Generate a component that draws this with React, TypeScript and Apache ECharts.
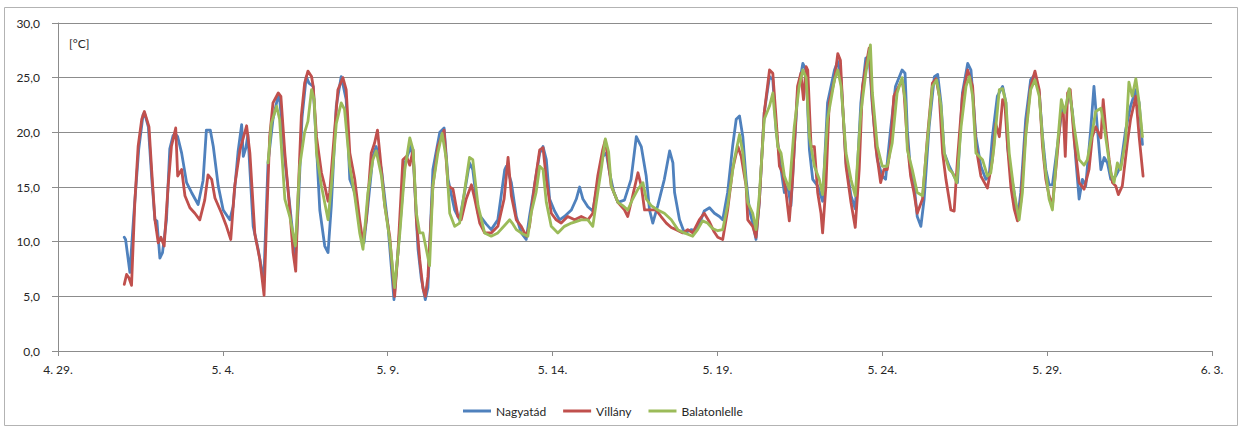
import React, { useEffect, useRef } from "react";
import * as echarts from "echarts";

// x values are days counted from 29 April 00:00
const xTickLabels = ["4. 29.", "5. 4.", "5. 9.", "5. 14.", "5. 19.", "5. 24.", "5. 29.", "6. 3."];
const seriesNames = ["Nagyatád", "Villány", "Balatonlelle"];
const seriesColors = ["#4F81BD", "#C0504D", "#9BBB59"];
const unitLabel = "[°C]";

const nagyatad: [number, number][] = [
  [2.01, 10.4], [2.05, 10.2], [2.18, 7.2], [2.3, 12.5], [2.45, 18.5], [2.58, 21.6], [2.62, 21.8], [2.74, 20.5],
  [2.85, 15.5], [2.94, 12.0], [3.0, 11.9], [3.05, 10.0], [3.09, 8.5], [3.17, 9.0], [3.29, 12.0], [3.39, 18.5],
  [3.49, 19.7], [3.55, 19.9], [3.63, 19.6], [3.75, 18.1], [3.9, 15.4], [4.05, 14.5], [4.25, 13.4], [4.4, 15.6],
  [4.5, 20.2], [4.62, 20.2], [4.71, 18.7], [4.86, 15.1], [5.01, 12.9], [5.21, 12.0], [5.31, 13.2], [5.46, 18.2],
  [5.57, 20.7], [5.62, 17.8], [5.7, 18.6], [5.76, 19.8], [5.85, 15.0], [5.92, 11.4], [6.07, 9.3], [6.24, 6.4],
  [6.37, 17.2], [6.52, 21.2], [6.68, 23.4], [6.73, 22.8], [6.88, 17.5], [7.03, 13.3], [7.2, 8.5], [7.3, 14.0],
  [7.4, 21.3], [7.53, 25.1], [7.61, 24.5], [7.74, 24.2], [7.84, 18.7], [7.94, 12.9], [8.09, 9.6], [8.19, 9.0],
  [8.29, 13.3], [8.44, 22.4], [8.59, 25.1], [8.74, 23.0], [8.85, 15.7], [9.0, 14.5], [9.2, 10.5], [9.28, 9.9],
  [9.4, 13.3], [9.55, 17.8], [9.65, 18.7], [9.81, 16.6], [10.01, 11.4], [10.19, 4.7], [10.31, 9.0], [10.52, 17.2],
  [10.7, 18.7], [10.78, 17.5], [10.87, 12.0], [10.92, 9.3], [11.02, 6.6], [11.14, 4.7], [11.22, 5.8], [11.37, 16.6],
  [11.58, 20.0], [11.71, 20.4], [11.83, 15.7], [12.03, 12.9], [12.18, 12.0], [12.33, 14.5], [12.48, 17.2], [12.58, 16.6],
  [12.74, 12.6], [12.99, 11.6], [13.14, 11.1], [13.34, 12.0], [13.55, 16.6], [13.6, 16.9], [13.75, 15.4], [13.9, 12.3],
  [14.05, 10.8], [14.2, 10.2], [14.3, 12.3], [14.45, 15.1], [14.61, 18.1], [14.71, 18.7], [14.81, 17.5], [14.91, 13.9],
  [15.06, 12.8], [15.21, 12.0], [15.36, 12.3], [15.57, 12.9], [15.72, 13.9], [15.82, 15.0], [15.92, 13.9], [16.07, 13.2],
  [16.22, 12.8], [16.37, 15.4], [16.52, 17.8], [16.63, 18.1], [16.73, 16.3], [16.85, 14.6], [16.98, 13.6], [17.18, 13.8],
  [17.38, 15.7], [17.54, 19.6], [17.69, 18.7], [17.84, 16.0], [17.94, 12.9], [18.04, 11.7], [18.19, 13.3], [18.39, 15.7],
  [18.55, 18.3], [18.65, 17.2], [18.7, 14.5], [18.85, 12.0], [19.0, 10.8], [19.2, 11.1], [19.35, 11.0], [19.5, 12.0],
  [19.6, 12.8], [19.76, 13.1], [19.91, 12.6], [20.06, 12.3], [20.16, 12.0], [20.31, 14.5], [20.46, 18.7], [20.57, 21.2],
  [20.67, 21.5], [20.77, 19.6], [20.87, 15.7], [20.97, 12.9], [21.07, 11.7], [21.17, 10.2], [21.27, 13.6], [21.42, 21.8],
  [21.58, 25.1], [21.68, 24.8], [21.78, 20.2], [21.93, 16.6], [22.03, 14.5], [22.13, 15.1], [22.23, 13.3], [22.33, 18.5],
  [22.43, 23.5], [22.59, 26.3], [22.69, 25.7], [22.74, 22.0], [22.79, 18.4], [22.89, 15.7], [23.04, 15.1], [23.19, 13.7],
  [23.34, 22.7], [23.55, 25.7], [23.65, 26.5], [23.75, 24.8], [23.9, 17.2], [24.05, 14.2], [24.18, 13.0], [24.35, 22.7],
  [24.5, 26.8], [24.6, 26.9], [24.7, 22.4], [24.85, 17.5], [25.0, 16.0], [25.1, 15.7], [25.25, 20.2], [25.4, 24.2],
  [25.6, 25.7], [25.69, 25.4], [25.76, 20.2], [25.86, 16.3], [25.96, 15.4], [26.06, 12.3], [26.17, 11.4], [26.27, 13.9],
  [26.42, 20.5], [26.58, 25.1], [26.68, 25.3], [26.78, 22.7], [26.88, 18.1], [27.03, 16.9], [27.18, 16.0], [27.28, 15.4],
  [27.43, 23.6], [27.59, 26.3], [27.69, 25.7], [27.84, 19.6], [27.99, 16.9], [28.14, 15.7], [28.24, 16.0], [28.34, 19.6],
  [28.49, 23.3], [28.65, 24.2], [28.75, 22.7], [28.8, 18.7], [28.9, 16.3], [29.0, 14.5], [29.1, 12.0], [29.2, 14.5],
  [29.35, 21.2], [29.5, 24.8], [29.63, 25.3], [29.76, 23.6], [29.86, 19.6], [29.96, 16.6], [30.06, 15.2], [30.16, 15.2],
  [30.31, 18.7], [30.46, 22.4], [30.57, 22.1], [30.67, 23.9], [30.77, 21.8], [30.87, 17.5], [30.97, 13.9], [31.07, 15.7],
  [31.17, 15.1], [31.32, 20.2], [31.42, 24.2], [31.52, 20.5], [31.63, 16.6], [31.73, 17.7], [31.83, 17.2], [31.93, 15.7],
  [32.08, 16.0], [32.23, 16.9], [32.38, 20.2], [32.53, 22.4], [32.69, 23.9], [32.79, 22.7], [32.89, 18.9],
];

const villany: [number, number][] = [
  [2.01, 6.1], [2.08, 7.0], [2.15, 6.7], [2.23, 6.0], [2.33, 13.6], [2.43, 18.7], [2.54, 21.2], [2.62, 21.9],
  [2.69, 21.2], [2.76, 20.5], [2.84, 16.6], [2.94, 12.0], [3.04, 9.9], [3.12, 10.4], [3.22, 9.6], [3.34, 15.1],
  [3.44, 18.7], [3.57, 20.4], [3.63, 16.0], [3.75, 16.6], [3.85, 14.2], [4.0, 13.1], [4.15, 12.6], [4.3, 12.0],
  [4.45, 13.8], [4.55, 16.1], [4.66, 15.7], [4.76, 14.0], [4.96, 12.6], [5.11, 11.4], [5.24, 10.2], [5.36, 15.1],
  [5.52, 18.4], [5.72, 20.6], [5.82, 18.1], [5.97, 10.7], [6.12, 8.4], [6.25, 5.1], [6.32, 11.4], [6.42, 19.6],
  [6.52, 22.7], [6.68, 23.6], [6.76, 23.3], [6.88, 18.1], [7.03, 12.9], [7.13, 9.0], [7.21, 7.3], [7.28, 14.0],
  [7.38, 21.5], [7.48, 24.5], [7.58, 25.6], [7.69, 25.1], [7.74, 24.2], [7.84, 19.6], [7.99, 16.3], [8.09, 15.1],
  [8.19, 13.7], [8.24, 14.5], [8.39, 20.2], [8.49, 23.9], [8.64, 25.0], [8.74, 23.9], [8.85, 18.1], [9.0, 15.7],
  [9.15, 12.0], [9.25, 9.9], [9.35, 12.0], [9.5, 18.1], [9.6, 19.0], [9.69, 20.2], [9.76, 18.1], [9.91, 13.3],
  [10.06, 10.5], [10.21, 5.0], [10.31, 9.0], [10.46, 17.5], [10.57, 17.8], [10.67, 17.0], [10.77, 18.4], [10.87, 12.0],
  [10.97, 8.4], [11.07, 5.7], [11.14, 5.0], [11.22, 6.8], [11.37, 15.1], [11.52, 18.7], [11.71, 20.2], [11.83, 15.1],
  [11.98, 14.8], [12.13, 12.3], [12.23, 12.0], [12.38, 13.9], [12.54, 15.2], [12.64, 13.9], [12.79, 11.7], [12.94, 10.8],
  [13.14, 10.8], [13.34, 11.4], [13.53, 13.9], [13.65, 17.7], [13.75, 14.2], [13.9, 12.0], [14.05, 11.4], [14.2, 10.5],
  [14.3, 11.4], [14.45, 15.1], [14.61, 18.4], [14.71, 18.6], [14.81, 15.7], [14.96, 12.6], [15.11, 12.0], [15.26, 11.7],
  [15.46, 12.3], [15.67, 12.0], [15.87, 12.3], [16.07, 12.0], [16.22, 12.6], [16.37, 16.0], [16.52, 18.4], [16.6, 19.3],
  [16.68, 17.5], [16.78, 15.1], [16.98, 13.6], [17.18, 12.9], [17.28, 12.3], [17.43, 14.2], [17.59, 16.3], [17.69, 15.1],
  [17.79, 12.9], [17.94, 12.9], [18.14, 12.9], [18.29, 12.3], [18.45, 11.7], [18.6, 11.3], [18.75, 11.1], [18.95, 10.8],
  [19.1, 11.1], [19.25, 10.8], [19.45, 12.0], [19.6, 12.6], [19.76, 11.8], [19.9, 10.9], [20.01, 10.4], [20.16, 10.2],
  [20.31, 12.9], [20.46, 16.6], [20.62, 18.7], [20.72, 17.8], [20.87, 15.1], [20.92, 12.0], [21.07, 11.4], [21.17, 10.4],
  [21.27, 13.6], [21.42, 21.8], [21.58, 25.7], [21.68, 25.4], [21.78, 21.2], [21.88, 16.9], [21.98, 16.3], [22.08, 14.5],
  [22.18, 11.9], [22.28, 15.7], [22.43, 24.2], [22.53, 25.4], [22.61, 23.0], [22.69, 26.0], [22.74, 25.7], [22.84, 18.7],
  [22.94, 18.7], [23.04, 14.5], [23.14, 12.6], [23.19, 10.8], [23.29, 15.1], [23.39, 22.7], [23.55, 24.8], [23.65, 27.2],
  [23.73, 26.6], [23.8, 22.4], [23.9, 16.9], [24.05, 13.6], [24.18, 11.3], [24.3, 16.6], [24.4, 24.2], [24.5, 26.0],
  [24.6, 27.7], [24.7, 22.7], [24.8, 18.7], [24.95, 15.4], [25.05, 16.6], [25.15, 16.6], [25.25, 18.7], [25.35, 23.3],
  [25.6, 24.8], [25.66, 23.6], [25.76, 19.0], [25.86, 16.0], [25.96, 14.5], [26.06, 12.6], [26.22, 13.9], [26.37, 19.6],
  [26.52, 24.5], [26.63, 24.9], [26.73, 23.3], [26.83, 18.1], [26.93, 15.7], [27.08, 12.9], [27.18, 12.8], [27.28, 17.5],
  [27.43, 23.3], [27.59, 25.7], [27.74, 24.2], [27.84, 18.7], [27.99, 16.0], [28.19, 14.9], [28.34, 17.5], [28.44, 20.8],
  [28.55, 19.6], [28.65, 23.0], [28.72, 22.5], [28.8, 18.7], [28.9, 15.0], [29.0, 13.0], [29.1, 11.9], [29.2, 13.6],
  [29.35, 20.0], [29.5, 24.2], [29.63, 25.6], [29.76, 23.9], [29.86, 18.7], [29.96, 15.7], [30.06, 14.2], [30.16, 13.3],
  [30.31, 18.1], [30.41, 21.5], [30.49, 21.8], [30.55, 17.8], [30.62, 23.6], [30.7, 23.9], [30.82, 19.3], [30.97, 15.4],
  [31.12, 14.8], [31.27, 16.6], [31.37, 19.6], [31.47, 20.5], [31.57, 19.9], [31.63, 19.5], [31.7, 23.0], [31.78, 20.2],
  [31.88, 17.5], [31.98, 15.4], [32.08, 15.1], [32.16, 14.3], [32.28, 15.1], [32.43, 19.0], [32.53, 21.2], [32.69, 23.3],
  [32.79, 19.6], [32.91, 16.0],
];

const balatonlelle: [number, number][] = [
  [6.37, 17.2], [6.47, 20.8], [6.63, 22.4], [6.72, 21.2], [6.88, 13.9], [7.03, 12.3], [7.2, 9.6], [7.33, 16.9],
  [7.48, 20.0], [7.58, 21.0], [7.69, 23.9], [7.77, 23.0], [7.84, 18.1], [7.99, 15.1], [8.19, 12.0], [8.29, 15.1],
  [8.44, 20.8], [8.59, 22.7], [8.69, 22.1], [8.85, 16.9], [9.0, 14.2], [9.15, 10.8], [9.25, 9.3], [9.4, 14.5],
  [9.55, 17.5], [9.65, 18.3], [9.81, 16.0], [9.91, 13.3], [10.06, 10.2], [10.21, 5.8], [10.36, 10.5], [10.52, 16.6],
  [10.67, 19.5], [10.77, 18.4], [10.87, 12.6], [10.97, 10.8], [11.07, 10.8], [11.17, 9.3], [11.27, 7.8], [11.37, 15.1],
  [11.52, 18.1], [11.65, 19.9], [11.78, 17.5], [11.88, 12.6], [12.03, 11.4], [12.18, 11.7], [12.28, 13.6], [12.48, 17.7],
  [12.58, 17.5], [12.74, 13.3], [12.94, 10.8], [13.14, 10.5], [13.34, 10.8], [13.55, 11.5], [13.7, 12.0], [13.8, 11.6],
  [13.9, 11.1], [14.1, 10.7], [14.25, 10.5], [14.35, 12.6], [14.5, 14.5], [14.61, 16.9], [14.71, 16.6], [14.81, 13.6],
  [14.96, 11.4], [15.16, 10.8], [15.36, 11.4], [15.57, 11.7], [15.87, 12.0], [16.07, 12.0], [16.22, 11.4], [16.37, 14.5],
  [16.49, 16.9], [16.6, 19.4], [16.7, 18.2], [16.78, 15.1], [16.98, 13.6], [17.13, 13.3], [17.28, 12.9], [17.43, 13.9],
  [17.59, 14.8], [17.74, 15.4], [17.84, 13.9], [17.99, 13.3], [18.19, 12.9], [18.39, 12.6], [18.6, 12.0], [18.8, 11.1],
  [19.0, 10.8], [19.25, 10.5], [19.4, 11.1], [19.55, 11.9], [19.7, 11.7], [19.85, 11.2], [20.01, 11.0], [20.16, 11.1],
  [20.31, 13.3], [20.51, 17.5], [20.67, 19.8], [20.77, 18.1], [20.92, 13.6], [21.07, 12.6], [21.17, 11.1], [21.27, 14.2],
  [21.42, 21.2], [21.58, 22.4], [21.68, 23.6], [21.73, 21.8], [21.83, 18.7], [21.93, 18.1], [22.03, 16.0], [22.18, 14.8],
  [22.33, 20.5], [22.48, 24.2], [22.59, 25.7], [22.69, 25.0], [22.79, 19.6], [22.94, 16.9], [23.09, 15.7], [23.19, 14.3],
  [23.34, 21.2], [23.55, 24.8], [23.65, 25.7], [23.75, 24.2], [23.9, 18.1], [24.05, 15.7], [24.18, 14.2], [24.35, 21.8],
  [24.5, 25.4], [24.64, 28.0], [24.7, 23.6], [24.85, 18.7], [25.0, 16.9], [25.15, 16.9], [25.3, 19.0], [25.45, 23.6],
  [25.6, 25.0], [25.7, 22.7], [25.76, 18.4], [25.91, 16.6], [26.06, 14.5], [26.22, 14.2], [26.37, 19.3], [26.52, 24.2],
  [26.65, 24.8], [26.78, 22.4], [26.88, 18.1], [27.03, 16.6], [27.13, 16.3], [27.26, 15.4], [27.39, 20.5], [27.54, 24.2],
  [27.64, 25.1], [27.74, 23.3], [27.84, 18.1], [28.04, 17.5], [28.19, 16.0], [28.29, 16.3], [28.39, 18.7], [28.55, 23.9],
  [28.65, 24.0], [28.75, 22.7], [28.85, 18.1], [29.0, 14.5], [29.15, 12.0], [29.25, 14.5], [29.35, 19.6], [29.5, 23.9],
  [29.63, 24.8], [29.76, 23.3], [29.91, 17.5], [30.06, 13.9], [30.16, 12.9], [30.31, 18.7], [30.43, 23.0], [30.53, 21.8],
  [30.67, 24.0], [30.82, 20.5], [30.97, 17.5], [31.12, 17.0], [31.22, 17.5], [31.37, 20.0], [31.47, 21.9], [31.63, 22.2],
  [31.73, 20.5], [31.83, 18.4], [31.93, 16.3], [32.03, 15.4], [32.13, 17.2], [32.23, 16.6], [32.38, 19.3], [32.48, 24.6],
  [32.58, 23.3], [32.69, 24.9], [32.79, 22.7], [32.89, 19.6],
];

const seriesData = [nagyatad, villany, balatonlelle];

const FONT = "Lato, 'Liberation Sans', sans-serif";
const TEXT = "#262626";
const GRID = "#8c8c8c";

export default function App() {
  const ref = useRef<HTMLDivElement>(null);

  useEffect(() => {
    if (!ref.current) return;
    const chart = echarts.init(ref.current, null, { renderer: "svg" });
    chart.setOption({
      animation: false,
      backgroundColor: "#ffffff",
      textStyle: { fontFamily: FONT },
      grid: { left: 58, top: 23, right: 32, bottom: 79, containLabel: false },
      xAxis: {
        type: "value",
        min: 0,
        max: 35,
        interval: 5,
        axisLine: { show: true, lineStyle: { color: GRID, width: 1 } },
        axisTick: { show: true, length: 5, lineStyle: { color: GRID } },
        axisLabel: {
          color: TEXT,
          fontSize: 12,
          fontFamily: FONT,
          margin: 12,
          formatter: (v: number) => xTickLabels[Math.round(v / 5)] ?? "",
        },
        splitLine: { show: false },
      },
      yAxis: {
        type: "value",
        min: 0,
        max: 30,
        interval: 5,
        axisLine: { show: true, lineStyle: { color: GRID, width: 1 } },
        axisTick: { show: true, length: 6, lineStyle: { color: GRID } },
        axisLabel: {
          color: TEXT,
          fontSize: 12,
          fontFamily: FONT,
          margin: 18,
          formatter: (v: number) => v.toFixed(1).replace(".", ","),
        },
        splitLine: { show: true, lineStyle: { color: GRID, width: 1 } },
      },
      legend: {
        data: seriesNames,
        left: 458,
        top: 400,
        icon: "rect",
        itemWidth: 28,
        itemHeight: 3,
        itemGap: 17,
        textStyle: { color: TEXT, fontSize: 12, fontFamily: FONT },
      },
      graphic: [
        {
          type: "rect",
          shape: { x: 4.5, y: 7.5, width: 1233, height: 418 },
          style: { fill: "none", stroke: "#b3b3b3", lineWidth: 1 },
          silent: true,
        },
        {
          type: "text",
          left: 69,
          top: 37,
          style: { text: unitLabel, fill: TEXT, fontSize: 12, fontFamily: FONT },
          silent: true,
        },
      ],
      series: seriesNames.map((name, i) => ({
        name,
        type: "line",
        data: seriesData[i],
        showSymbol: false,
        symbol: "none",
        smooth: false,
        color: seriesColors[i],
        lineStyle: { color: seriesColors[i], width: 2.8, join: "round", cap: "round" },
      })),
    });
    return () => chart.dispose();
  }, []);

  return (
    <div
      ref={ref}
      style={{ position: "absolute", left: 0, top: 0, width: 1244, height: 430 }}
    />
  );
}
